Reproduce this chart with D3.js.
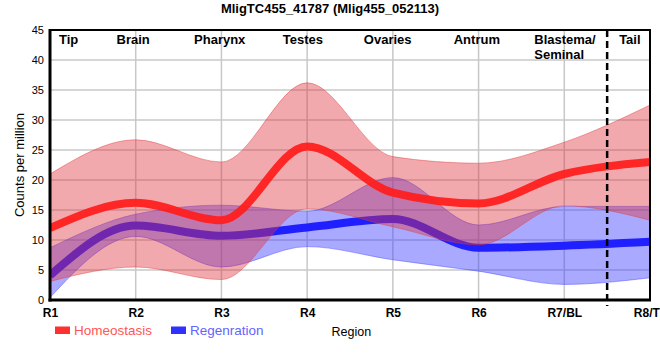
<!DOCTYPE html>
<html><head><meta charset="utf-8">
<script src="https://cdn.jsdelivr.net/npm/d3@7"></script>
<style>
body{margin:0;background:#fff;}
svg{display:block;font-family:"Liberation Sans",Arial,sans-serif;}
</style></head>
<body><svg id="c" width="660" height="360"></svg>
<script>
const title = "MligTC455_41787 (Mlig455_052113)";
const categories = ["R1","R2","R3","R4","R5","R6","R7/BL","R8/TL"];
const yTicks = [0,5,10,15,20,25,30,35,40,45];
const homeoMean  = [12.0, 16.2, 13.3, 25.6, 17.9, 16.1, 21.0, 23.0];
const homeoUpper = [21.0, 26.7, 23.0, 36.2, 23.9, 22.8, 26.3, 32.5];
const homeoLower = [3.1,  5.5,  3.4,  15.2, 12.2, 9.2,  15.7, 13.3];
const regenMean  = [4.1,  12.4, 10.7, 12.1, 13.5, 8.7,  9.05, 9.7];
const regenUpper = [8.7,  14.3, 15.8, 14.8, 20.4, 12.5, 15.6, 15.6];
const regenLower = [0.4,  10.6, 5.5,  8.9,  6.7,  4.8,  2.6,  3.7];
const regionNames = ["Tip","Brain","Pharynx","Testes","Ovaries","Antrum","Blastema/|Seminal","Tail"];
const regionAt    = [0.21, 0.97, 1.98, 2.95, 3.94, 4.98, 5.65, 6.78];
const dividerAt = 6.5;
const seriesNames = ["Homeostasis","Regenration"];

const svg = d3.select("#c");
const L=50,R=650,T=30,B=300;
const x = d3.scaleLinear().domain([0,categories.length-1]).range([L,R]);
const y = d3.scaleLinear().domain([0,45]).range([B,T]);
const idx = categories.map((_,i)=>i);

// grid
const g = svg.append("g");
g.selectAll("line.h").data(yTicks.slice(1)).join("line")
 .attr("x1",L).attr("x2",R).attr("y1",d=>y(d)).attr("y2",d=>y(d))
 .attr("stroke","#c8c8c8").attr("stroke-width",1.5);
g.selectAll("line.v").data(idx.slice(1,-1)).join("line")
 .attr("y1",T).attr("y2",B).attr("x1",d=>x(d)).attr("x2",d=>x(d))
 .attr("stroke","#c8c8c8").attr("stroke-width",1.5);

const clip = svg.append("clipPath").attr("id","pc").append("rect")
 .attr("x",L).attr("y",T).attr("width",R-L).attr("height",B-T);
const plot = svg.append("g").attr("clip-path","url(#pc)");

const area = (lo,hi)=>d3.area().x((d,i)=>x(i)).y0((d,i)=>y(lo[i])).y1((d,i)=>y(hi[i])).curve(d3.curveMonotoneX)(idx);
const line = v=>d3.line().x((d,i)=>x(i)).y((d,i)=>y(v[i])).curve(d3.curveMonotoneX)(idx);

plot.append("path").attr("d",area(regenLower,regenUpper))
 .attr("fill","rgba(60,60,255,0.44)").attr("stroke","rgba(60,60,255,0.45)").attr("stroke-width",1);
plot.append("path").attr("d",line(regenMean)).attr("fill","none")
 .attr("stroke","#1f1fff").attr("stroke-width",8);
plot.append("path").attr("d",area(homeoLower,homeoUpper))
 .attr("fill","rgba(225,50,60,0.42)").attr("stroke","rgba(225,60,60,0.45)").attr("stroke-width",1);
plot.append("path").attr("d",line(homeoMean)).attr("fill","none")
 .attr("stroke","#ff1f1f").attr("stroke-width",8).attr("stroke-opacity",0.95);

// divider
svg.append("line").attr("x1",x(dividerAt)).attr("x2",x(dividerAt)).attr("y1",T).attr("y2",B+6)
 .attr("stroke","#000").attr("stroke-width",2.5).attr("stroke-dasharray","7,4");

// borders
svg.append("line").attr("x1",L).attr("x2",R+1).attr("y1",T).attr("y2",T).attr("stroke","#000").attr("stroke-width",2);
svg.append("line").attr("x1",R).attr("x2",R).attr("y1",T).attr("y2",B).attr("stroke","#000").attr("stroke-width",2);

// y axis
const ya = svg.append("g").attr("transform",`translate(${L},0)`)
 .call(d3.axisLeft(y).tickValues(yTicks).tickSize(0).tickPadding(6));
ya.select(".domain").remove();
ya.selectAll("text").attr("font-size",11).attr("fill","#000").attr("font-family","Liberation Sans, Arial, sans-serif");
// x axis
const xa = svg.append("g").attr("transform",`translate(0,${B})`)
 .call(d3.axisBottom(x).tickValues(idx).tickFormat(i=>categories[i]).tickSize(0).tickPadding(8));
xa.select(".domain").remove();
xa.selectAll("text").attr("font-size",12).attr("font-weight","bold").attr("fill","#000").attr("font-family","Liberation Sans, Arial, sans-serif");

svg.append("line").attr("x1",L).attr("x2",L).attr("y1",T-1).attr("y2",B+1.5).attr("stroke","#000").attr("stroke-width",3);
svg.append("line").attr("x1",L-1.5).attr("x2",R+1).attr("y1",B).attr("y2",B).attr("stroke","#000").attr("stroke-width",3);

// region labels
regionNames.forEach((n,i)=>{
  const parts = n.split("|");
  const t = svg.append("text").attr("font-size",13).attr("font-weight","bold").attr("fill","#000")
    .attr("text-anchor", parts.length>1 ? "start" : (i===0||i===regionNames.length-1 ? "start":"middle"));
  const xx = (i===0||i===regionNames.length-1||parts.length>1) ? x(regionAt[i]) - (i===0?9:(parts.length>1?0:12)) : x(regionAt[i]);
  parts.forEach((p,k)=>t.append("tspan").attr("x",xx).attr("y",44+k*15).text(p));
});

// title
svg.append("text").attr("x",330).attr("y",13).attr("text-anchor","middle")
 .attr("font-size",13).attr("font-weight","bold").text(title);
// y label
svg.append("text").attr("transform",`translate(24,${(T+B)/2}) rotate(-90)`).attr("text-anchor","middle")
 .attr("font-size",13).text("Counts per million");
// x label
svg.append("text").attr("x",331.5).attr("y",336).attr("font-size",12.5).text("Region");

// legend
const lg = [{c:"#ff3030",t:"#ff5555",x:55},{c:"#3030ff",t:"#6464ff",x:171}];
lg.forEach((d,i)=>{
  svg.append("rect").attr("x",d.x).attr("y",326.5).attr("width",15).attr("height",7.5).attr("fill",d.c);
  svg.append("text").attr("x",d.x+19).attr("y",335).attr("font-size",13.5).attr("fill",d.t).text(seriesNames[i]);
});
</script></body></html>
